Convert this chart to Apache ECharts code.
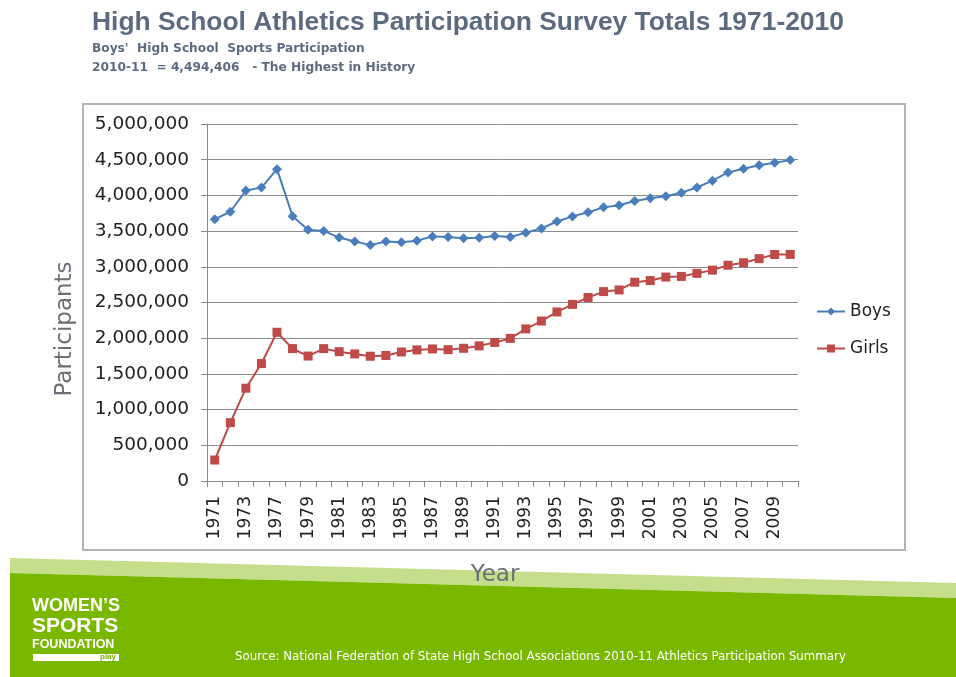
<!DOCTYPE html>
<html>
<head>
<meta charset="utf-8">
<script src="https://cdn.jsdelivr.net/npm/echarts@6/dist/echarts.min.js"></script>
<style>
html,body{margin:0;padding:0;background:#fff;}
#main{width:956px;height:677px;}
</style>
</head>
<body>
<div id="main"></div>
<script>
// Survey years (start year of each school year surveyed)
var years = ['1971','1972','1973','1975','1977','1978','1979','1980','1981','1982','1983','1984','1985','1986','1987','1988','1989','1990','1991','1992','1993','1994','1995','1996','1997','1998','1999','2000','2001','2002','2003','2004','2005','2006','2007','2008','2009','2010'];
var boys = [3666917,3770621,4070125,4109021,4367442,3709512,3517829,3503124,3409081,3355558,3303599,3354284,3344275,3364082,3425777,3416844,3398192,3406355,3429853,3416389,3478530,3536359,3634052,3706225,3763120,3832352,3861749,3921069,3960517,3988738,4038253,4110319,4206549,4321103,4372115,4422662,4455740,4494406];
var girls = [294015,817073,1300169,1645039,2083040,1854400,1750264,1853789,1810671,1779972,1747346,1757884,1807121,1836356,1849684,1839352,1858659,1892316,1940801,1997489,2130315,2240461,2367936,2474043,2570333,2652726,2675874,2784154,2806998,2856358,2865299,2908390,2953355,3021807,3057266,3114091,3172637,3173549];
var seriesNames = ['Boys','Girls'];
var titleText = 'High School Athletics Participation Survey Totals 1971-2010';
var subLine1 = "Boys'  High School  Sports Participation";
var subLine2 = '2010-11  = 4,494,406   - The Highest in History';
var sourceText = 'Source: National Federation of State High School Associations 2010-11 Athletics Participation Summary';
var xTitle = 'Year';
var yTitle = 'Participants';

var chart = echarts.init(document.getElementById('main'));
function fmt(v){ return String(v).replace(/\B(?=(\d{3})+(?!\d))/g, ','); }
var option = {
  backgroundColor: '#fff',
  animation: false,
  title: {
    text: titleText,
    subtext: subLine1 + '\n' + subLine2,
    left: 87, top: 5, itemGap: 3,
    textStyle: {fontFamily: 'Liberation Sans', fontSize: 26.4, fontWeight: 'bold', color: '#5d6b80'},
    subtextStyle: {fontFamily: 'DejaVu Sans', fontSize: 12.2, fontWeight: 'bold', color: '#5d6b80', lineHeight: 19}
  },
  graphic: [
    {type: 'rect', z: -10, shape: {x: 83, y: 104, width: 822, height: 446}, style: {fill: '#fff', stroke: '#b3b3b3', lineWidth: 2}},
    {type: 'polygon', z: -5, shape: {points: [[10,558],[956,583],[956,598],[10,573]]}, style: {fill: '#c4de8c'}},
    {type: 'polygon', z: -5, shape: {points: [[10,573],[956,598],[956,677],[10,677]]}, style: {fill: '#7ab800'}},
    {type: 'text', z: 5, x: 495, y: 575, style: {text: xTitle, fill: '#6a6f78', font: '23px "DejaVu Sans"', align: 'center', verticalAlign: 'middle'}},
    {type: 'text', z: 5, x: 65, y: 329, rotation: Math.PI / 2, style: {text: yTitle, fill: '#6a6f78', font: '23px "DejaVu Sans"', align: 'center', verticalAlign: 'middle'}},
    {type: 'text', z: 5, left: 32, top: 597, style: {text: 'WOMEN\u2019S', fill: '#fff', font: 'bold 18px "Liberation Sans"'}},
    {type: 'text', z: 5, left: 32, top: 616, style: {text: 'SPORTS', fill: '#fff', font: 'bold 21px "Liberation Sans"'}},
    {type: 'text', z: 5, left: 32, top: 638, style: {text: 'FOUNDATION', fill: '#fff', font: 'bold 12.5px "Liberation Sans"'}},
    {type: 'rect', z: 5, shape: {x: 33, y: 654, width: 86, height: 7}, style: {fill: '#fff'}},
    {type: 'text', z: 6, left: 100, top: 653, style: {text: 'play', fill: '#7ab800', font: 'bold 8px "Liberation Sans"'}},
    {type: 'text', z: 5, left: 235, top: 651, style: {text: sourceText, fill: '#fff', font: '11.8px "DejaVu Sans"'}}
  ],
  legend: {
    orient: 'vertical', left: 811, top: 298, itemGap: 20, itemWidth: 28, itemHeight: 10,
    data: seriesNames,
    textStyle: {fontFamily: 'DejaVu Sans', fontSize: 17, color: '#222'}
  },
  grid: {left: 207, right: 158, top: 124, bottom: 196},
  xAxis: {
    type: 'category', data: years, boundaryGap: true,
    axisLine: {lineStyle: {color: '#8a8a8a', width: 1}},
    axisTick: {show: true, interval: 0, length: 6, lineStyle: {color: '#8a8a8a'}},
    axisLabel: {interval: 1, rotate: 90, fontFamily: 'DejaVu Sans', fontSize: 17, color: '#222', margin: 15},
    splitLine: {show: false}
  },
  yAxis: {
    type: 'value', min: 0, max: 5000000, interval: 500000,
    axisLine: {show: true, lineStyle: {color: '#8a8a8a', width: 1}},
    axisTick: {show: true, length: 6, lineStyle: {color: '#8a8a8a'}},
    axisLabel: {formatter: fmt, fontFamily: 'DejaVu Sans', fontSize: 18.5, color: '#222', margin: 18},
    splitLine: {lineStyle: {color: '#8c8c8c', width: 1}}
  },
  series: [
    {name: seriesNames[0], type: 'line', data: boys, symbol: 'diamond', symbolSize: 10,
     lineStyle: {color: '#4a7ebb', width: 2}, itemStyle: {color: '#4a7ebb'}},
    {name: seriesNames[1], type: 'line', data: girls, symbol: 'rect', symbolSize: 9,
     lineStyle: {color: '#be4b48', width: 2}, itemStyle: {color: '#be4b48'}}
  ]
};
chart.setOption(option);
</script>
</body>
</html>
